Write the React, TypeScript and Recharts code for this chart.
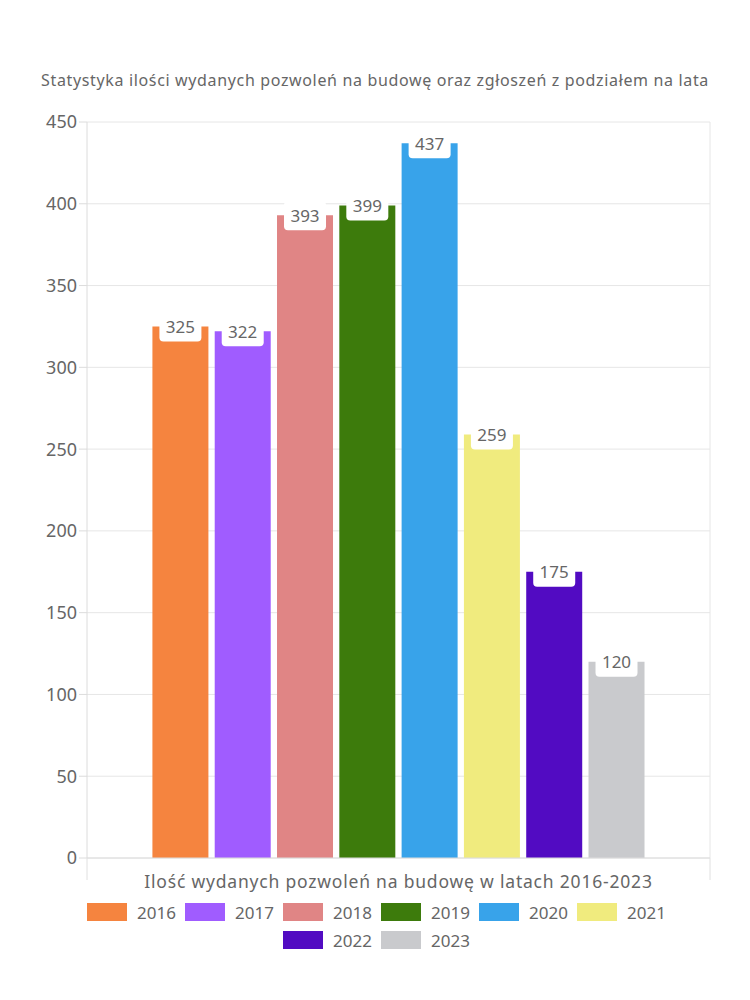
import React from "react";
import {
  BarChart,
  Bar,
  XAxis,
  YAxis,
  CartesianGrid,
  LabelList,
} from "recharts";

// lata i liczba wydanych pozwoleń
const years = ["2016", "2017", "2018", "2019", "2020", "2021", "2022", "2023"];
const permits = [325, 322, 393, 399, 437, 259, 175, 120];
const yTicks = [0, 50, 100, 150, 200, 250, 300, 350, 400, 450];

const COLORS = [
  "#F5843F",
  "#A05CFF",
  "#E08585",
  "#3D7B0C",
  "#38A3EA",
  "#F0EB7E",
  "#520BC2",
  "#C9CACD",
];

const FONT = "'Noto Sans', sans-serif";
const TEXT = "#666666";

const row: Record<string, string | number> = { name: "pozwolenia" };
years.forEach((y, i) => {
  row[y] = permits[i];
});
const data = [row];

const ValueLabel = (props: any) => {
  const { x, y, width, value } = props;
  const cx = x + width / 2;
  const bw = width - 14;
  return (
    <g>
      <rect x={cx - bw / 2} y={y - 14} width={bw} height={29} rx={4} fill="#fff" />
      <text
        x={cx}
        y={y}
        textAnchor="middle"
        dominantBaseline="central"
        fontSize={17}
        fontFamily={FONT}
        fill={TEXT}
      >
        {value}
      </text>
    </g>
  );
};

// krótkie kreski na krawędziach kategorii pod osią X
const EdgeTicks = (props: any) => {
  const { x, y } = props;
  const half = 311.5;
  const top = y - 8;
  return (
    <g>
      <line x1={x - half} x2={x - half} y1={top} y2={top + 22} stroke="#e0e0e0" />
      <line x1={x + half} x2={x + half} y1={top} y2={top + 22} stroke="#e0e0e0" />
    </g>
  );
};

const App = () => {
  return (
    <div style={{ width: 734, fontFamily: FONT, position: "relative" }}>
      <div
        style={{
          position: "absolute",
          top: 61,
          left: 0,
          width: 734,
          textAlign: "center",
          fontSize: 16,
          letterSpacing: 0.65,
          color: TEXT,
          whiteSpace: "nowrap",
        }}
      >
        Statystyka ilości wydanych pozwoleń na budowę oraz zgłoszeń z podziałem na lata
      </div>
      <BarChart
        width={734}
        height={890}
        data={data}
        margin={{ top: 114, right: 32, left: 0, bottom: 0 }}
        barCategoryGap="10.5%"
        barGap={6.3}
      >
        <CartesianGrid stroke="#e6e6e6" verticalPoints={[702]} />
        <XAxis
          dataKey="name"
          height={40}
          stroke="#dcdcdc"
          tickLine={false}
          tick={<EdgeTicks />}
          label={{
            value: "Ilość wydanych pozwoleń na budowę w latach 2016-2023",
            position: "insideBottom",
            offset: 10,
            fill: TEXT,
            fontSize: 17.5,
            letterSpacing: 0.8,
            fontFamily: FONT,
          }}
        />
        <YAxis
          width={79}
          domain={[0, 450]}
          ticks={yTicks}
          stroke="#dcdcdc"
          tickSize={8}
          tick={{ fill: TEXT, fontSize: 18, fontFamily: FONT }}
        />
        {years.map((y, i) => (
          <Bar key={y} dataKey={y} fill={COLORS[i]} isAnimationActive={false}>
            <LabelList dataKey={y} content={<ValueLabel />} />
          </Bar>
        ))}
      </BarChart>
      <div
        style={{
          width: 600,
          margin: "0 auto",
          display: "flex",
          flexWrap: "wrap",
          justifyContent: "center",
          columnGap: 12,
        }}
      >
        {years.map((y, i) => (
          <div
            key={y}
            style={{ display: "flex", alignItems: "center", height: 28 }}
          >
            <span
              style={{
                display: "inline-block",
                width: 40,
                height: 18,
                background: COLORS[i],
                marginRight: 10,
              }}
            />
            <span style={{ fontSize: 17, color: TEXT, width: 36 }}>{y}</span>
          </div>
        ))}
      </div>
    </div>
  );
};

export default App;
